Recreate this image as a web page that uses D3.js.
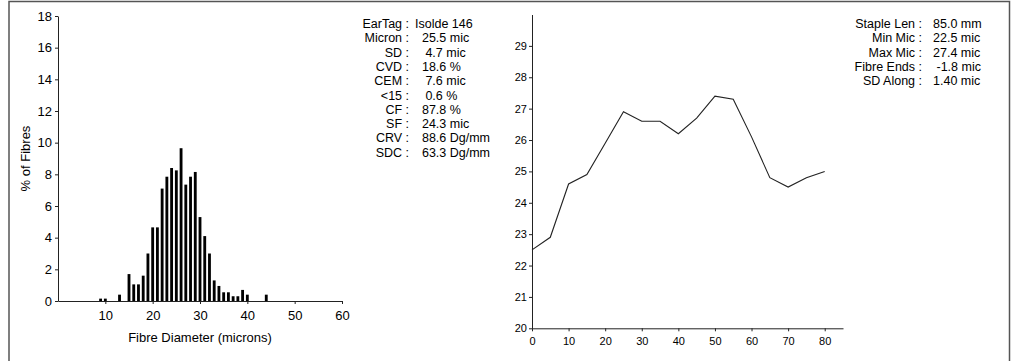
<!DOCTYPE html>
<html>
<head>
<meta charset="utf-8">
<script src="https://cdn.jsdelivr.net/npm/d3@7"></script>
<style>
  body { margin: 0; background: #fff; }
  svg { display: block; font-family: "Liberation Sans", Arial, sans-serif; }
  .stat { white-space: pre; }
</style>
</head>
<body>
<svg width="1024" height="361"></svg>
<script>
// histogram: fibre diameter (microns) vs % of fibres
const diameters = [9, 10, 13, 15, 16, 17, 18, 19, 20, 21, 22, 23, 24, 25, 26, 27, 28, 29, 30, 31, 32, 33, 34, 35, 36, 37, 38, 39, 40, 44]
const percents = [0.15, 0.15, 0.4, 1.7, 1.05, 1.05, 1.6, 3.0, 4.65, 4.65, 7.1, 7.85, 8.4, 8.25, 9.65, 7.35, 7.85, 8.15, 5.3, 4.1, 3.0, 1.3, 0.95, 0.55, 0.55, 0.3, 0.3, 0.7, 0.4, 0.4]
const histXTicks = [10, 20, 30, 40, 50, 60]
const histYTicks = [0, 2, 4, 6, 8, 10, 12, 14, 16, 18]

// profile along the staple
const positions = [0, 5, 10, 15, 20, 25, 30, 35, 40, 45, 50, 55, 60, 65, 70, 75, 80]
const microns = [22.5, 22.9, 24.6, 24.9, 25.9, 26.9, 26.6, 26.6, 26.2, 26.7, 27.4, 27.3, 26.1, 24.8, 24.5, 24.8, 25.0]
const profXTicks = [0, 10, 20, 30, 40, 50, 60, 70, 80]
const profYTicks = [20, 21, 22, 23, 24, 25, 26, 27, 28, 29]

// summary text blocks
const statLabels = ["EarTag", "Micron", "SD", "CVD", "CEM", "<15", "CF", "SF", "CRV", "SDC"]
const statValues = ["Isolde 146", "  25.5 mic", "   4.7 mic", "  18.6 %", "   7.6 mic", "   0.6 %", "  87.8 %", "  24.3 mic", "  88.6 Dg/mm", "  63.3 Dg/mm"]
const stapleLabels = ["Staple Len", "Min Mic", "Max Mic", "Fibre Ends", "SD Along"]
const stapleValues = ["85.0 mm", "22.5 mic", "27.4 mic", " -1.8 mic", "1.40 mic"]

const svg = d3.select("svg")

svg.append("rect")
  .attr("x", 9).attr("y", 1.5)
  .attr("width", 1000.5).attr("height", 400)
  .attr("fill", "none")
  .attr("stroke", "#555")
  .attr("stroke-width", 1.5)

const styleAxis = (g, size) => {
  g.select(".domain").attr("stroke", "#222")
  g.selectAll(".tick line").attr("stroke", "#222")
  g.selectAll(".tick text").attr("fill", "#000").style("font-size", `${size}px`).style("font-family", "inherit")
}

// ---- histogram ----
const hx = d3.scaleLinear().domain([0, 60]).range([58, 342])
const hy = d3.scaleLinear().domain([0, 18]).range([301, 16])

svg.append("g")
  .attr("transform", `translate(0,${hy(0)})`)
  .call(d3.axisBottom(hx).tickValues(histXTicks).tickSize(3).tickPadding(7).tickSizeOuter(0))
  .call((g) => styleAxis(g, 13))

svg.append("g")
  .attr("transform", `translate(${hx(0)},0)`)
  .call(d3.axisLeft(hy).tickValues(histYTicks).tickSize(3).tickPadding(3).tickSizeOuter(0))
  .call((g) => styleAxis(g, 13))

svg.append("g")
  .selectAll("rect")
  .data(diameters)
  .enter()
  .append("rect")
  .attr("x", (d) => hx(d - 0.3))
  .attr("width", hx(0.6) - hx(0))
  .attr("y", (d, i) => hy(percents[i]))
  .attr("height", (d, i) => hy(0) - hy(percents[i]))
  .attr("fill", "#000")

svg.append("text")
  .attr("x", (hx(0) + hx(60)) / 2)
  .attr("y", 342)
  .attr("text-anchor", "middle")
  .style("font-size", "13px")
  .text("Fibre Diameter (microns)")

svg.append("text")
  .attr("transform", `translate(30,${(hy(0) + hy(18)) / 2}) rotate(-90)`)
  .attr("text-anchor", "middle")
  .style("font-size", "13px")
  .text("% of Fibres")

// ---- stats text ----
const drawStats = (labels, values, colonX, valueX) => {
  const rows = svg.append("g").style("font-size", "12.5px")
  rows.selectAll("text.lab")
    .data(labels)
    .enter()
    .append("text")
    .attr("class", "lab stat")
    .attr("x", colonX)
    .attr("y", (d, i) => 28 + i * 14.3)
    .attr("text-anchor", "end")
    .text((d) => `${d} :`)
  rows.selectAll("text.val")
    .data(values)
    .enter()
    .append("text")
    .attr("class", "val stat")
    .attr("x", valueX)
    .attr("y", (d, i) => 28 + i * 14.3)
    .text((d) => d)
}

drawStats(statLabels, statValues, 409, 415)
drawStats(stapleLabels, stapleValues, 922, 933)

// ---- profile ----
const px = d3.scaleLinear().domain([0, 85]).range([532, 843])
const py = d3.scaleLinear().domain([20, 30]).range([328.3, 14.5])

svg.append("g")
  .attr("transform", `translate(0,${py(20)})`)
  .call(d3.axisBottom(px).tickValues(profXTicks).tickSize(3).tickPadding(6).tickSizeOuter(0))
  .call((g) => styleAxis(g, 11))

svg.append("g")
  .attr("transform", `translate(${px(0)},0)`)
  .call(d3.axisLeft(py).tickValues(profYTicks).tickSize(3).tickPadding(2).tickSizeOuter(0))
  .call((g) => styleAxis(g, 11))

const line = d3.line()
  .x((d) => px(d))
  .y((d, i) => py(microns[i]))

svg.append("path")
  .datum(positions)
  .attr("d", line)
  .attr("fill", "none")
  .attr("stroke", "#222")
  .attr("stroke-width", 1.1)
</script>
</body>
</html>
